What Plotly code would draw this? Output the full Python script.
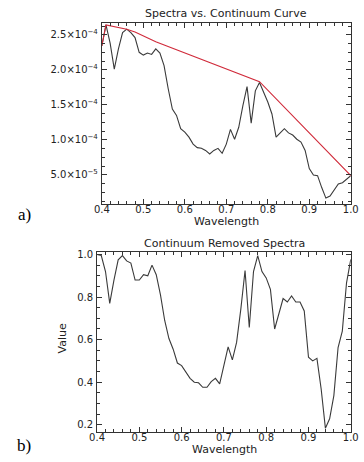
import plotly.graph_objects as go

wavelength = [0.40, 0.41, 0.42, 0.43, 0.44, 0.45, 0.46, 0.47, 0.48, 0.49,
              0.50, 0.51, 0.52, 0.53, 0.54, 0.55, 0.56, 0.57, 0.58, 0.59,
              0.60, 0.61, 0.62, 0.63, 0.64, 0.65, 0.66, 0.67, 0.68, 0.69,
              0.70, 0.71, 0.72, 0.73, 0.74, 0.75, 0.76, 0.77, 0.78, 0.79,
              0.80, 0.81, 0.82, 0.83, 0.84, 0.85, 0.86, 0.87, 0.88, 0.89,
              0.90, 0.91, 0.92, 0.93, 0.94, 0.95, 0.96, 0.97, 0.98, 0.99, 1.00]

spectrum = [2.34e-4, 2.64e-4, 2.38e-4, 2.01e-4, 2.30e-4, 2.53e-4, 2.58e-4, 2.53e-4, 2.46e-4, 2.25e-4,
            2.21e-4, 2.24e-4, 2.22e-4, 2.30e-4, 2.24e-4, 2.06e-4, 1.73e-4, 1.44e-4, 1.35e-4, 1.16e-4,
            1.11e-4, 1.04e-4, 0.94e-4, 0.89e-4, 0.88e-4, 0.85e-4, 0.80e-4, 0.85e-4, 0.88e-4, 0.81e-4,
            0.94e-4, 1.15e-4, 1.01e-4, 1.18e-4, 1.49e-4, 1.76e-4, 1.24e-4, 1.70e-4, 1.82e-4, 1.68e-4,
            1.54e-4, 1.37e-4, 1.04e-4, 1.10e-4, 1.16e-4, 1.10e-4, 1.07e-4, 1.01e-4, 0.97e-4, 0.85e-4,
            0.59e-4, 0.50e-4, 0.49e-4, 0.32e-4, 0.17e-4, 0.20e-4, 0.28e-4, 0.37e-4, 0.39e-4, 0.44e-4, 0.49e-4]

hull_x = [0.40, 0.41, 0.46, 0.48, 0.53, 0.78, 1.00]
hull_y = [2.34e-4, 2.64e-4, 2.58e-4, 2.54e-4, 2.40e-4, 1.83e-4, 0.49e-4]

removed = [1.000, 0.995, 0.920, 0.770, 0.880, 0.975, 0.995, 0.970, 0.960, 0.880,
           0.880, 0.905, 0.900, 0.950, 0.905, 0.810, 0.690, 0.605, 0.555, 0.490,
           0.478, 0.447, 0.418, 0.400, 0.397, 0.376, 0.376, 0.403, 0.418, 0.392,
           0.478, 0.566, 0.505, 0.587, 0.743, 0.925, 0.657, 0.920, 0.995, 0.920,
           0.890, 0.836, 0.650, 0.727, 0.793, 0.777, 0.805, 0.777, 0.777, 0.735,
           0.517, 0.500, 0.512, 0.368, 0.184, 0.228, 0.337, 0.563, 0.640, 0.867, 0.977]

x_ticks = [0.4, 0.5, 0.6, 0.7, 0.8, 0.9, 1.0]
x_ticktext = ["0.4", "0.5", "0.6", "0.7", "0.8", "0.9", "1.0"]
ya_ticks = [5.0e-5, 1.0e-4, 1.5e-4, 2.0e-4, 2.5e-4]
ya_ticktext = ["5.0×10<sup>−5</sup>", "1.0×10<sup>−4</sup>", "1.5×10<sup>−4</sup>",
               "2.0×10<sup>−4</sup>", "2.5×10<sup>−4</sup>"]
yb_ticks = [0.2, 0.4, 0.6, 0.8, 1.0]
yb_ticktext = ["0.2", "0.4", "0.6", "0.8", "1.0"]

W, H = 376, 462
FONT = "DejaVu Sans"
AX = "#333333"

def px_x(p):
    return p / W

def px_y(p):
    return 1 - p / H

fig = go.Figure()
fig.add_trace(go.Scatter(x=wavelength, y=spectrum, mode="lines",
                         line=dict(color="#3a3a3a", width=1.1), xaxis="x", yaxis="y"))
fig.add_trace(go.Scatter(x=hull_x, y=hull_y, mode="lines",
                         line=dict(color="#d02a3a", width=1.1), xaxis="x", yaxis="y"))
fig.add_trace(go.Scatter(x=wavelength, y=removed, mode="lines",
                         line=dict(color="#3a3a3a", width=1.1), xaxis="x2", yaxis="y2"))

common = dict(showline=True, linecolor=AX, linewidth=1, mirror="allticks",
              ticks="inside", ticklen=5, tickcolor=AX, tickwidth=1,
              showgrid=False, zeroline=False,
              tickfont=dict(family=FONT, size=10, color="#222222"))

xcommon = dict(common, range=[0.4, 1.0], tickvals=x_ticks, ticktext=x_ticktext,
               ticklabelstandoff=-4,
               minor=dict(ticks="inside", ticklen=3, tickcolor=AX, dtick=0.02, showgrid=False))

fig.update_layout(
    width=W, height=H,
    margin=dict(l=0, r=0, t=0, b=0),
    paper_bgcolor="white", plot_bgcolor="white",
    showlegend=False,
    xaxis=dict(xcommon, domain=[px_x(98), px_x(358)], anchor="y"),
    yaxis=dict(common, domain=[px_y(202), px_y(20)], anchor="x",
               range=[0.9e-5, 2.67e-4], tickvals=ya_ticks, ticktext=ya_ticktext,
               ticklabelstandoff=1,
               minor=dict(ticks="inside", ticklen=3, tickcolor=AX, dtick=1.25e-5, showgrid=False)),
    xaxis2=dict(xcommon, domain=[px_x(93), px_x(358)], anchor="y2"),
    yaxis2=dict(common, domain=[px_y(432), px_y(251)], anchor="x2",
                range=[0.165, 1.01], tickvals=yb_ticks, ticktext=yb_ticktext,
                ticklabelstandoff=1,
                minor=dict(ticks="inside", ticklen=3, tickcolor=AX, dtick=0.05, showgrid=False)),
)

ann_font = dict(family=FONT, size=11, color="#222222")
annotations = [
    dict(text="Spectra vs. Continuum Curve", x=px_x(228), y=px_y(11)),
    dict(text="Wavelength", x=px_x(228), y=px_y(219.5)),
    dict(text="Continuum Removed Spectra", x=px_x(226), y=px_y(242)),
    dict(text="Wavelength", x=px_x(226), y=px_y(449.5)),
]
for a in annotations:
    fig.add_annotation(xref="paper", yref="paper", showarrow=False,
                       font=ann_font, xanchor="center", yanchor="middle", **a)
fig.add_annotation(text="Value", xref="paper", yref="paper", x=px_x(57), y=px_y(338),
                   showarrow=False, textangle=-90, font=ann_font,
                   xanchor="center", yanchor="middle")
for lbl, yy in [("a)", 213), ("b)", 445)]:
    fig.add_annotation(text=lbl, xref="paper", yref="paper", x=px_x(17), y=px_y(yy),
                       showarrow=False,
                       font=dict(family="Liberation Serif", size=17, color="black"),
                       xanchor="center", yanchor="middle")

fig.write_html("out.html", config={"displayModeBar": False},
               post_script="document.body.style.margin='0';document.body.style.overflow='hidden';")
